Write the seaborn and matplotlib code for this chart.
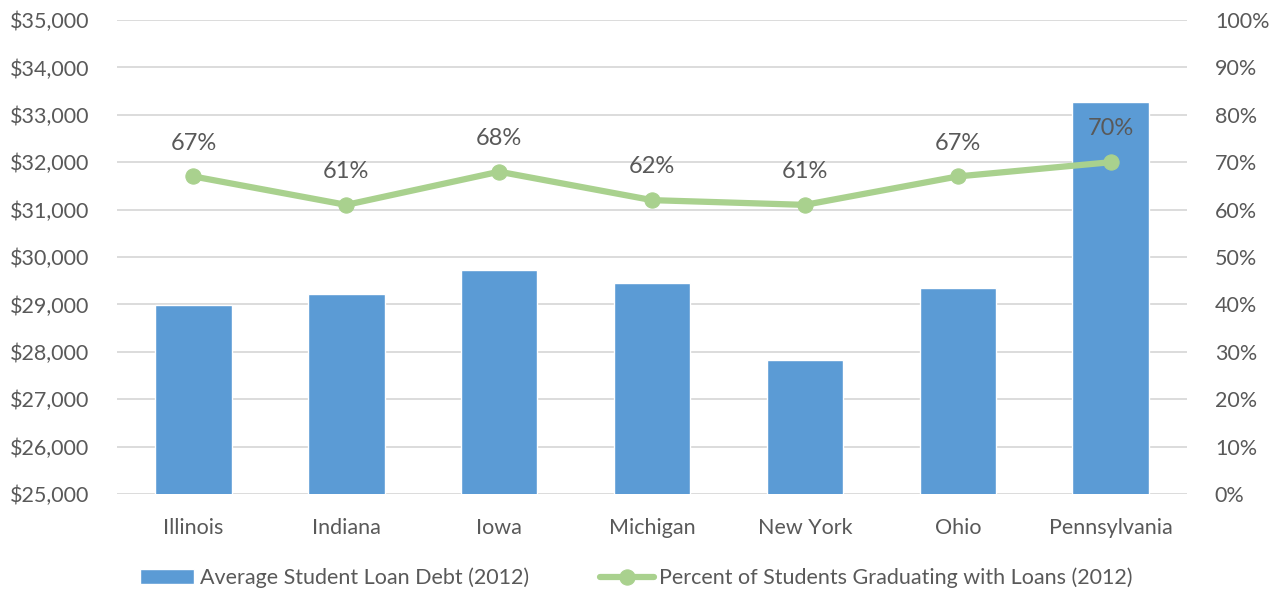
import numpy as np
import pandas as pd
import matplotlib
matplotlib.use("Agg")
import matplotlib.pyplot as plt
import seaborn as sns
from matplotlib.ticker import FuncFormatter, MultipleLocator

# dati
states = ['Illinois', 'Indiana', 'Iowa', 'Michigan', 'New York', 'Ohio', 'Pennsylvania']
avg_debt = [28980, 29220, 29720, 29445, 27825, 29345, 33260]
pct_loans = [67, 61, 68, 62, 61, 67, 70]

bar_color = '#5B9BD5'
line_color = '#A9D18E'
text_color = '#595959'
grid_color = '#D9D9D9'
fs = 15.5

sns.set_theme(style='white')
plt.rcParams['font.family'] = ['Lato', 'DejaVu Sans']

df = pd.DataFrame({'state': states, 'debt': avg_debt, 'pct': pct_loans})

fig = plt.figure(figsize=(12.73, 5.92), dpi=100)
ax = fig.add_axes([0.0919, 0.1655, 0.8406, 0.8007])

sns.barplot(data=df, x='state', y='debt', color=bar_color, width=0.5,
            saturation=1, ax=ax, zorder=2, label='Average Student Loan Debt (2012)')
ax.set_ylim(25000, 35000)
ax.yaxis.set_major_locator(MultipleLocator(1000))
ax.yaxis.set_major_formatter(FuncFormatter(lambda v, p: '${:,.0f}'.format(v)))
ax.set_xlim(-0.5, len(states) - 0.5)
ax.grid(axis='y', color=grid_color, linewidth=1.3, zorder=0)
ax.set_axisbelow(True)
ax.set_xlabel('')
ax.set_ylabel('')
ax.tick_params(axis='y', length=0, pad=20, labelsize=fs, labelcolor=text_color)
ax.tick_params(axis='x', length=0, pad=17, labelsize=fs, labelcolor=text_color)
for s in ax.spines.values():
    s.set_visible(False)

ax2 = ax.twinx()
xpos = np.arange(len(states))
sns.lineplot(x=xpos, y=df['pct'], color=line_color, linewidth=4.5, marker='o',
             markersize=11, markeredgecolor=line_color, ax=ax2, zorder=3,
             label='Percent of Students Graduating with Loans (2012)')
ax2.set_ylim(0, 100)
ax2.yaxis.set_major_locator(MultipleLocator(10))
ax2.yaxis.set_major_formatter(FuncFormatter(lambda v, p: '{:.0f}%'.format(v)))
ax2.tick_params(axis='y', length=0, pad=20, labelsize=fs, labelcolor=text_color)
ax2.set_ylabel('')
ax2.grid(False)
for s in ax2.spines.values():
    s.set_visible(False)
ax2.set_xlim(-0.5, len(states) - 0.5)

for x, p in zip(xpos, pct_loans):
    ax2.annotate('{}%'.format(p), (x, p), xytext=(0, 24), textcoords='offset points',
                 ha='center', va='center', fontsize=17, color=text_color)

# legenda in basso
h1, l1 = ax.get_legend_handles_labels()
h2, l2 = ax2.get_legend_handles_labels()
if ax2.get_legend():
    ax2.get_legend().remove()
if ax.get_legend():
    ax.get_legend().remove()
fig.legend(h1 + h2, l1 + l2, loc='center', bbox_to_anchor=(0.5, 0.024), ncol=2,
           frameon=False, fontsize=fs, labelcolor=text_color, handlelength=2.5,
           handletextpad=0.25, columnspacing=3.3)

fig.savefig('out.png', dpi=100)
